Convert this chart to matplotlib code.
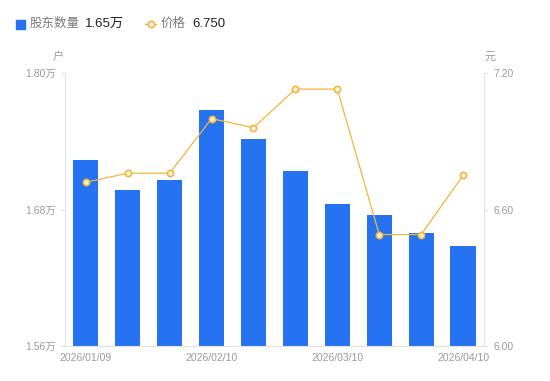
import matplotlib
matplotlib.use("Agg")
import matplotlib.pyplot as plt
import numpy as np

plt.rcParams['font.family'] = ['Liberation Sans', 'Noto Sans CJK SC', 'DejaVu Sans']

# data
dates = ['2026/01/09', '2026/01/20', '2026/01/31', '2026/02/10', '2026/02/20',
         '2026/02/28', '2026/03/10', '2026/03/20', '2026/03/31', '2026/04/10']
holders = [1.724, 1.697, 1.706, 1.768, 1.742, 1.714, 1.685, 1.675, 1.659, 1.648]  # 万户
price = [6.72, 6.76, 6.76, 7.00, 6.96, 7.13, 7.13, 6.49, 6.49, 6.75]
shown_ticks = [0, 3, 6, 9]

bar_color = '#2573F0'
line_color = '#F5B43C'
axis_color = '#E3E3E6'
tick_text = '#9A9AA0'

fig = plt.figure(figsize=(5.5, 3.81), dpi=100)
ax = fig.add_axes([0.118, 0.092, 0.762, 0.716])
x = np.arange(len(dates))
ax.bar(x, holders, width=0.6, color=bar_color, zorder=2)
ax.set_xlim(-0.5, len(dates) - 0.5)
ax.set_ylim(1.56, 1.80)
ax.set_yticks([1.56, 1.68, 1.80])
ax.set_yticklabels(['1.56万', '1.68万', '1.80万'])
ax.set_xticks(shown_ticks)
ax.set_xticklabels([dates[i] for i in shown_ticks])

ax2 = ax.twinx()
ax2.plot(x, price, color=line_color, lw=0.9, marker='o', ms=4.5,
         mfc='#FFF6E0', mec=line_color, mew=1.2, zorder=3)
ax2.set_ylim(6.0, 7.2)
ax2.set_yticks([6.0, 6.6, 7.2])
ax2.set_yticklabels(['6.00', '6.60', '7.20'])

for a in (ax, ax2):
    for s in a.spines.values():
        s.set_visible(False)
    a.tick_params(colors=axis_color, labelcolor=tick_text, labelsize=7.5, length=3, width=0.8)
ax.spines['left'].set_visible(True)
ax.spines['left'].set_color(axis_color)
ax.spines['bottom'].set_visible(True)
ax.spines['bottom'].set_color(axis_color)
ax2.spines['right'].set_visible(True)
ax2.spines['right'].set_color(axis_color)
ax.tick_params(axis='x', length=0, pad=5)

fig.text(58 / 550, 1 - 57 / 381, '户', fontsize=8, color=tick_text, ha='center', va='center')
fig.text(490 / 550, 1 - 57 / 381, '元', fontsize=8, color=tick_text, ha='center', va='center')

# legend row
fig.patches.append(plt.Rectangle((16 / 550, 1 - 29 / 381), 9 / 550, 9 / 381,
                                 transform=fig.transFigure, color=bar_color))
fig.text(30 / 550, 1 - 24 / 381, '股东数量', fontsize=9, color='#7A7A80', va='center')
fig.text(85 / 550, 1 - 24 / 381, '1.65万', fontsize=9.5, color='#222222', va='center')
fig.add_artist(plt.Line2D([145 / 550, 156 / 550], [1 - 24 / 381] * 2, color=line_color,
                          lw=1, transform=fig.transFigure))
fig.add_artist(plt.Line2D([150.5 / 550], [1 - 24 / 381], color=line_color, lw=0,
                          marker='o', ms=4.5, mfc='white', mec=line_color, mew=1.2,
                          transform=fig.transFigure))
fig.text(161 / 550, 1 - 24 / 381, '价格', fontsize=9, color='#7A7A80', va='center')
fig.text(192 / 550, 1 - 24 / 381, '6.750', fontsize=9.5, color='#222222', va='center')

fig.savefig('out.png', dpi=100)
